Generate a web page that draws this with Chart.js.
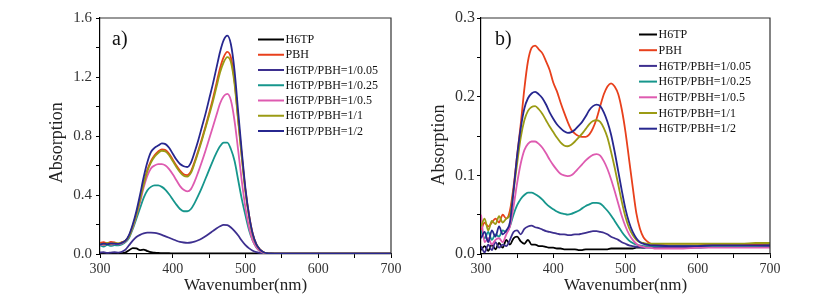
<!DOCTYPE html>
<html>
<head>
<meta charset="utf-8">
<script src="https://cdn.jsdelivr.net/npm/chart.js@4.4.0/dist/chart.umd.min.js"></script>
<style>
  html, body { margin: 0; padding: 0; background: #fff; }
  #wrap { position: relative; width: 823px; height: 303px; }
  canvas { position: absolute; top: 0; }
</style>
</head>
<body>
<div id="wrap">
  <canvas id="chartA" width="412" height="303" style="left:0"></canvas>
  <canvas id="chartB" width="411" height="303" style="left:412px"></canvas>
</div>
<script>
// x grid (nm): 300..540 every 5, then every 20 up to 700
const wavelengths = [
  300,305,310,315,320,325,330,335,340,345,
  350,355,360,365,370,375,380,385,390,395,
  400,405,410,415,420,425,430,435,440,445,
  450,455,460,465,470,475,480,485,490,495,
  500,505,510,515,520,525,530,535,540,
  560,580,600,620,640,660,680,700
];

const seriesNames = ["H6TP", "PBH", "H6TP/PBH=1/0.05", "H6TP/PBH=1/0.25", "H6TP/PBH=1/0.5", "H6TP/PBH=1/1", "H6TP/PBH=1/2"];
const seriesColors = ["#000000", "#e8401c", "#3d2f8f", "#16968c", "#de5bb0", "#9b9b14", "#27278f"];

// panel a)
const a_H6TP = [
  .003,.004,.003,.004,.003,.004,.005,.01,.025,.04,
  .038,.026,.03,.02,.012,.009,.007,.006,.005,.005,
  .004,.004,.004,.004,.004,.004,.004,.004,.004,.004,
  .004,.004,.004,.004,.004,.004,.004,.004,.004,.004,
  .004,.004,.004,.004,.004,.004,.004,.004,.004,
  .004,.004,.004,.004,.004,.004,.004,.004
];
const a_PBH = [
  .075,.08,.072,.082,.078,.07,.08,.09,.125,.19,
  .27,.37,.48,.57,.63,.67,.695,.71,.705,.68,
  .64,.6,.565,.54,.535,.56,.625,.70,.78,.865,
  .955,1.05,1.155,1.26,1.335,1.37,1.33,1.17,.91,.66,
  .43,.26,.135,.065,.03,.012,.006,.004,.003,
  .002,.002,.002,.002,.002,.002,.002,.002
];
const a_r005 = [
  .01,.012,.008,.01,.012,.01,.015,.03,.06,.09,
  .115,.13,.14,.145,.145,.143,.138,.13,.12,.11,
  .1,.09,.082,.078,.076,.078,.084,.093,.105,.12,
  .137,.155,.173,.188,.197,.195,.18,.155,.125,.09,
  .06,.038,.022,.012,.007,.004,.003,.002,.002,
  .002,.002,.002,.002,.002,.002,.002,.002
];
const a_r025 = [
  .06,.05,.062,.055,.06,.058,.065,.08,.11,.17,
  .24,.31,.38,.43,.455,.465,.465,.455,.435,.405,
  .37,.335,.305,.29,.29,.305,.345,.395,.45,.51,
  .57,.63,.685,.73,.755,.755,.71,.63,.5,.37,
  .26,.16,.09,.045,.02,.008,.004,.003,.002,
  .002,.002,.002,.002,.002,.002,.002,.002
];
const a_r05 = [
  .065,.06,.07,.064,.068,.066,.072,.085,.12,.18,
  .26,.35,.45,.53,.58,.60,.61,.61,.60,.575,
  .54,.5,.46,.435,.425,.44,.49,.555,.625,.70,
  .78,.86,.94,1.02,1.07,1.085,1.04,.9,.7,.49,
  .31,.18,.09,.045,.02,.008,.004,.003,.002,
  .002,.002,.002,.002,.002,.002,.002,.002
];
const a_r1 = [
  .07,.065,.075,.068,.074,.072,.078,.09,.12,.185,
  .265,.365,.47,.56,.62,.66,.685,.70,.695,.67,
  .63,.59,.555,.53,.525,.55,.615,.69,.77,.855,
  .94,1.03,1.13,1.23,1.30,1.335,1.30,1.15,.9,.65,
  .42,.25,.13,.063,.03,.012,.006,.004,.003,
  .002,.002,.002,.002,.002,.002,.002,.002
];
const a_r2 = [
  .065,.07,.066,.072,.07,.068,.076,.09,.13,.2,
  .29,.40,.52,.62,.69,.72,.735,.75,.745,.72,
  .68,.64,.61,.595,.59,.62,.69,.77,.86,.95,
  1.05,1.15,1.26,1.37,1.45,1.48,1.42,1.24,.96,.69,
  .44,.26,.135,.065,.03,.012,.006,.004,.003,
  .002,.002,.002,.002,.002,.002,.002,.002
];

// panel b)
const b_H6TP = [
  .005,.01,.004,.012,.006,.014,.008,.018,.012,.02,
  .022,.016,.013,.018,.012,.012,.01,.01,.009,.008,
  .008,.007,.007,.006,.006,.006,.006,.005,.005,.006,
  .006,.006,.006,.006,.006,.006,.007,.007,.007,.007,
  .007,.007,.007,.008,.008,.008,.009,.009,.009,
  .009,.01,.01,.01,.01,.01,.01,.01
];
const b_PBH = [
  .03,.04,.035,.04,.045,.04,.05,.045,.055,.085,
  .125,.165,.21,.245,.262,.265,.26,.255,.245,.234,
  .218,.207,.193,.18,.168,.158,.153,.15,.149,.149,
  .152,.16,.172,.188,.203,.213,.217,.213,.203,.183,
  .155,.12,.085,.052,.032,.021,.016,.013,.012,
  .011,.011,.011,.012,.012,.012,.012,.012
];
const b_r005 = [
  .01,.002,.012,.005,.015,.008,.012,.01,.018,.028,
  .03,.025,.032,.035,.036,.034,.033,.031,.029,.028,
  .027,.026,.025,.025,.024,.024,.025,.025,.026,.027,
  .028,.029,.029,.028,.027,.025,.022,.02,.018,.015,
  .013,.011,.01,.009,.009,.008,.008,.008,.008,
  .008,.008,.008,.009,.009,.009,.009,.01
];
const b_r025 = [
  .03,.02,.028,.018,.025,.022,.03,.028,.035,.05,
  .062,.07,.075,.078,.078,.076,.073,.069,.064,.06,
  .057,.054,.052,.051,.05,.051,.053,.055,.058,.061,
  .063,.065,.065,.064,.06,.055,.049,.042,.035,.028,
  .022,.017,.014,.012,.011,.01,.01,.01,.01,
  .01,.01,.01,.01,.01,.01,.01,.011
];
const b_r05 = [
  .05,.015,.02,.012,.018,.02,.015,.025,.035,.06,
  .09,.115,.132,.14,.143,.143,.14,.135,.128,.12,
  .113,.107,.102,.1,.099,.1,.104,.109,.114,.119,
  .123,.126,.127,.125,.118,.108,.095,.08,.064,.048,
  .035,.025,.018,.013,.01,.009,.008,.008,.007,
  .007,.007,.008,.008,.008,.008,.008,.008
];
const b_r1 = [
  .035,.045,.03,.042,.038,.048,.04,.045,.05,.08,
  .115,.148,.17,.182,.187,.188,.184,.178,.17,.162,
  .155,.148,.142,.138,.137,.139,.143,.148,.153,.159,
  .165,.169,.17,.168,.16,.148,.13,.11,.088,.066,
  .047,.033,.024,.018,.015,.014,.013,.013,.013,
  .013,.013,.013,.013,.013,.013,.014,.014
];
const b_r2 = [
  .02,.028,.015,.03,.022,.035,.025,.03,.04,.08,
  .125,.16,.185,.198,.204,.206,.203,.198,.19,.18,
  .172,.165,.16,.156,.154,.155,.158,.163,.168,.175,
  .183,.188,.19,.188,.18,.168,.152,.13,.105,.08,
  .057,.04,.028,.02,.015,.013,.012,.011,.011,
  .01,.01,.01,.011,.011,.011,.011,.011
];

const SERIF = '"Liberation Serif", "Times New Roman", serif';

// box: top + right edges of the plot frame
var framePlugin = {
  id: "frameBox",
  afterDraw: function (chart) {
    var a = chart.chartArea, ctx = chart.ctx;
    ctx.save();
    ctx.strokeStyle = "#333";
    ctx.lineWidth = 1.2;
    ctx.beginPath();
    ctx.moveTo(a.left, a.top);
    ctx.lineTo(a.right, a.top);
    ctx.lineTo(a.right, a.bottom);
    ctx.stroke();
    ctx.restore();
  }
};

var legendPlugin = {
  id: "panelLegend",
  afterDraw: function (chart, args, o) {
    var ctx = chart.ctx;
    ctx.save();
    ctx.font = o.fontSize + "px " + SERIF;
    ctx.textBaseline = "middle";
    ctx.textAlign = "left";
    chart.data.datasets.forEach(function (ds, i) {
      var y = o.y + i * o.step;
      ctx.strokeStyle = ds.borderColor;
      ctx.lineWidth = 2;
      ctx.beginPath();
      ctx.moveTo(o.x, y);
      ctx.lineTo(o.x + o.len, y);
      ctx.stroke();
      ctx.fillStyle = "#111";
      ctx.fillText(ds.label, o.x + o.len + 1.5, y + 0.5);
    });
    ctx.restore();
  }
};

var tagPlugin = {
  id: "panelTag",
  afterDraw: function (chart, args, o) {
    var ctx = chart.ctx;
    ctx.save();
    ctx.font = "20px " + SERIF;
    ctx.fillStyle = "#111";
    ctx.textBaseline = "middle";
    ctx.fillText(o.text, o.x, o.y);
    ctx.restore();
  }
};

function makePanel(id, series, opts) {
  var datasets = seriesNames.map(function (name, i) {
    return {
      label: name,
      data: wavelengths.map(function (w, j) {
        return { x: w, y: series[i][j] };
      }),
      borderColor: seriesColors[i],
      backgroundColor: seriesColors[i],
      borderWidth: 1.8,
      pointRadius: 0,
      fill: false,
      cubicInterpolationMode: "monotone",
      order: seriesNames.length - i
    };
  });

  return new Chart(document.getElementById(id).getContext("2d"), {
    type: "line",
    data: { datasets: datasets },
    options: {
      responsive: false,
      animation: false,
      events: [],
      layout: { padding: opts.padding },
      plugins: {
        legend: { display: false },
        tooltip: { enabled: false },
        panelLegend: opts.legend,
        panelTag: opts.tag
      },
      scales: {
        x: {
          type: "linear",
          min: 300,
          max: 700,
          afterFit: function (s) { s.height = 42; },
          border: { color: "#000", width: 1.2 },
          grid: { drawOnChartArea: false, tickLength: 4, tickColor: "#000" },
          ticks: {
            stepSize: 50,
            autoSkip: false,
            maxRotation: 0,
            padding: 3,
            color: "#333",
            font: { family: SERIF, size: 14 },
            callback: function (v) { return v % 100 === 0 ? String(v) : ""; }
          },
          title: {
            display: true,
            text: "Wavenumber(nm)",
            padding: 0,
            color: "#222",
            font: { family: SERIF, size: 17 }
          }
        },
        y: {
          min: 0,
          max: opts.yMax,
          afterFit: function (s) { s.width = opts.yWidth; },
          border: { color: "#000", width: 1.2 },
          grid: { drawOnChartArea: false, tickLength: 4, tickColor: "#000" },
          ticks: {
            stepSize: opts.yStep,
            autoSkip: false,
            padding: opts.yPad,
            color: "#333",
            font: { family: SERIF, size: opts.yFont },
            callback: function (v) {
              var k = Math.round(v / opts.yStep);
              return k % 2 === 0 ? v.toFixed(1) : "";
            }
          },
          title: {
            display: true,
            text: opts.yTitle,
            padding: 0,
            color: "#222",
            font: { family: SERIF, size: 18 }
          }
        }
      }
    },
    plugins: [framePlugin, legendPlugin, tagPlugin]
  });
}

makePanel("chartA", [a_H6TP, a_PBH, a_r005, a_r025, a_r05, a_r1, a_r2], {
  padding: { left: 46, top: 18, right: 21, bottom: 7 },
  yWidth: 54,
  yMax: 1.6,
  yStep: 0.2,
  yPad: 4,
  yFont: 15,
  yTitle: "Absorption   ",
  legend: { x: 258, y: 39.5, step: 15.25, len: 26, fontSize: 12 },
  tag: { text: "a)", x: 112, y: 40 }
});

makePanel("chartB", [b_H6TP, b_PBH, b_r005, b_r025, b_r05, b_r1, b_r2], {
  padding: { left: 16, top: 18, right: 53, bottom: 7 },
  yWidth: 53,
  yMax: 0.3,
  yStep: 0.05,
  yPad: 2,
  yFont: 16,
  yTitle: "Absorption    ",
  legend: { x: 227, y: 34.5, step: 15.7, len: 18, fontSize: 12 },
  tag: { text: "b)", x: 83, y: 40 }
});
</script>
</body>
</html>
